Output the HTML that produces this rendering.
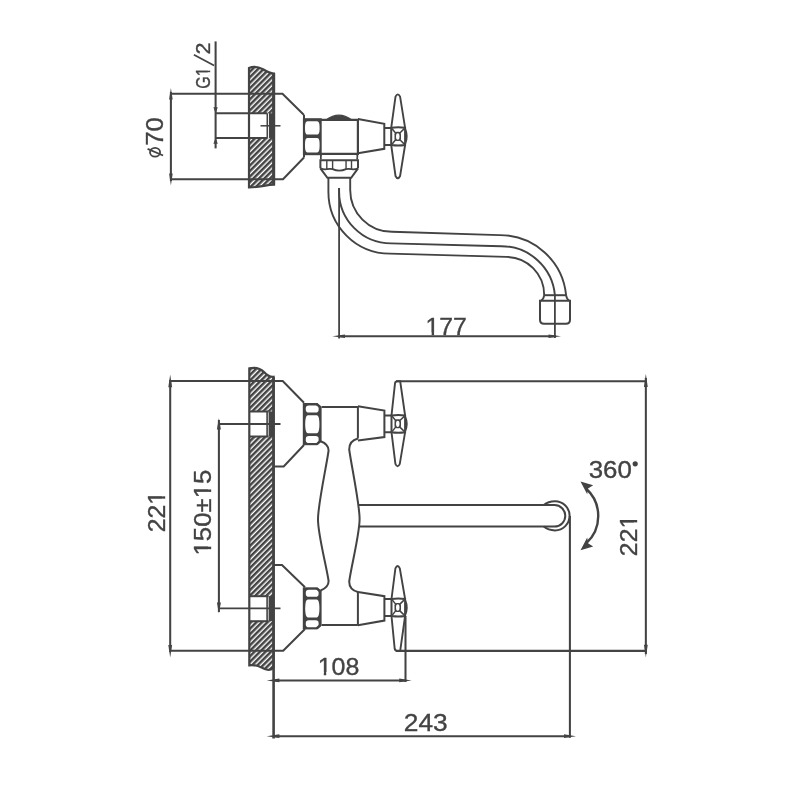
<!DOCTYPE html>
<html><head><meta charset="utf-8"><style>
html,body{margin:0;padding:0;background:#fff;width:800px;height:800px;overflow:hidden;}
svg{display:block;}
text{font-family:"Liberation Sans",sans-serif;}
svg{will-change:transform;}
</style></head><body>
<svg width="800" height="800" viewBox="0 0 800 800">
<defs>
<pattern id="hatch" patternUnits="userSpaceOnUse" width="3.9" height="3.9" patternTransform="rotate(-45)">
<rect x="0" y="0" width="3.9" height="2.5" fill="#434343"/>
</pattern>
</defs>
<rect width="800" height="800" fill="#fff"/>
<g stroke="#434343" fill="none" stroke-linecap="butt" stroke-linejoin="miter">
<g transform="translate(163.36,145.79) rotate(-90) scale(1.065,1)" stroke="none"><text font-size="24.2" fill="#434343" stroke="#434343" stroke-width="0.35">70</text></g>
<g transform="translate(210.1,88.71) rotate(-90) scale(0.8,1)" stroke="none"><text font-size="20.14" fill="#434343" stroke="#434343" stroke-width="0.35">G1</text><rect x="16.37" y="-2.32" width="4.25" height="3.93" fill="#fff"/><rect x="22.59" y="-2.32" width="4.45" height="3.93" fill="#fff"/></g>
<g transform="translate(209.9,54.4) rotate(-90) scale(1.11,1)" stroke="none"><text font-size="19.4" fill="#434343" stroke="#434343" stroke-width="0.35">2</text></g>
<g transform="translate(425.55,335.3) scale(1.043,1)" stroke="none"><text font-size="23.77" fill="#434343" stroke="#434343" stroke-width="0.35">177</text><rect x="0.83" y="-2.73" width="5.02" height="4.64" fill="#fff"/><rect x="8.18" y="-2.73" width="5.25" height="4.64" fill="#fff"/></g>
<g transform="translate(164.9,532.29) rotate(-90) scale(1.0175,1)" stroke="none"><text font-size="24.29" fill="#434343" stroke="#434343" stroke-width="0.35">221</text><rect x="27.87" y="-2.79" width="5.13" height="4.74" fill="#fff"/><rect x="35.37" y="-2.79" width="5.37" height="4.74" fill="#fff"/></g>
<g transform="translate(211.01,555.55) rotate(-90) scale(1.088,1)" stroke="none"><text font-size="23.73" fill="#434343" stroke="#434343" stroke-width="0.35">150±15</text><rect x="0.83" y="-2.73" width="5.01" height="4.63" fill="#fff"/><rect x="8.16" y="-2.73" width="5.24" height="4.63" fill="#fff"/><rect x="53.44" y="-2.73" width="5.01" height="4.63" fill="#fff"/><rect x="60.78" y="-2.73" width="5.24" height="4.63" fill="#fff"/></g>
<g transform="translate(637,556.14) rotate(-90) scale(1.028,1)" stroke="none"><text font-size="24.14" fill="#434343" stroke="#434343" stroke-width="0.35">221</text><rect x="27.69" y="-2.78" width="5.09" height="4.71" fill="#fff"/><rect x="35.15" y="-2.78" width="5.33" height="4.71" fill="#fff"/></g>
<g transform="translate(588.67,478.15) scale(1.055,1)" stroke="none"><text font-size="24.51" fill="#434343" stroke="#434343" stroke-width="0.35">360</text></g>
<g transform="translate(317.63,674.86) scale(1.031,1)" stroke="none"><text font-size="24.23" fill="#434343" stroke="#434343" stroke-width="0.35">108</text><rect x="0.85" y="-2.79" width="5.11" height="4.72" fill="#fff"/><rect x="8.34" y="-2.79" width="5.35" height="4.72" fill="#fff"/></g>
<g transform="translate(403.78,731.06) scale(1.08,1)" stroke="none"><text font-size="24.37" fill="#434343" stroke="#434343" stroke-width="0.35">243</text></g>
<clipPath id="cw1"><path d="M249,68 C253,66.3 258,66.6 263,69.3 C267,71.8 270,73.6 274,73.6 L274,184.6 C266,184.8 260,187.4 249,187.4 Z"/></clipPath>
<rect x="240" y="60" width="40" height="135" fill="url(#hatch)" stroke="none" clip-path="url(#cw1)"/>
<rect x="249" y="113.3" width="20" height="24.6" fill="#fff" stroke="none"/>
<rect x="269" y="113.3" width="5.5" height="24.6" fill="#434343" stroke="none"/>
<path d="M249,68 C253,66.3 258,66.6 263,69.3 C267,71.8 270,73.6 274,73.6 L274,184.6 C266,184.8 260,187.4 249,187.4 Z" stroke-width="2.2" fill="none"/>
<line x1="273.6" y1="73.6" x2="273.6" y2="184.6" stroke-width="3"/>
<line x1="267.3" y1="113.3" x2="267.3" y2="137.9" stroke-width="1.6"/>
<line x1="270.1" y1="113.3" x2="270.1" y2="137.9" stroke-width="0.7"/>
<line x1="260.5" y1="125.8" x2="280.5" y2="125.8" stroke-width="1.5"/>
<line x1="170.9" y1="92" x2="170.9" y2="181" stroke-width="2.05"/>
<polygon fill="#434343" stroke="none" points="170.9,88.1 169.1,99.5 172.7,99.5"/>
<polygon fill="#434343" stroke="none" points="170.9,185.6 169.1,173.4 172.7,173.4"/>
<path d="M170.9,93.85 L282.5,93.85 L304,115" stroke-width="2" fill="none"/>
<path d="M170.9,179.2 L283,179.2 L304,157.5" stroke-width="2" fill="none"/>
<ellipse cx="155.05" cy="152.2" rx="5.05" ry="4.4" fill="none" stroke-width="1.8"/>
<line x1="147.6" y1="148.85" x2="163.1" y2="155.5" stroke-width="1.8"/>
<line x1="215.6" y1="41.4" x2="215.6" y2="148.4" stroke-width="2.05"/>
<polygon fill="#434343" stroke="none" points="215.6,113.3 213.4,107.3 217.8,107.3"/>
<polygon fill="#434343" stroke="none" points="215.6,137.9 213.4,143.8 217.8,143.8"/>
<line x1="215.6" y1="113.3" x2="267.3" y2="113.3" stroke-width="2"/>
<line x1="215.6" y1="137.9" x2="267.3" y2="137.9" stroke-width="2"/>
<line x1="193.9" y1="54.7" x2="214.1" y2="65.6" stroke-width="1.7"/>
<rect x="302.9" y="118.2" width="18.8" height="37" fill="#434343" stroke="none"/>
<line x1="304" y1="115" x2="304" y2="157.5" stroke-width="2"/>
<path d="M307.5,121.3 L317,121.3 C319.4,121.3 319.6,125 319.6,128 C319.6,131 319.4,134.6 317,134.6 L307.5,134.6 C305.2,134.6 305,131 305,128 C305,125 305.2,121.3 307.5,121.3 Z" stroke="none" fill="#fff"/>
<path d="M307.5,137.9 L317,137.9 C319.4,137.9 319.6,141.5 319.6,145 C319.6,148.5 319.4,152.4 317,152.4 L307.5,152.4 C305.2,152.4 305,148.5 305,145 C305,141.5 305.2,137.9 307.5,137.9 Z" stroke="none" fill="#fff"/>
<path d="M321,119.8 L357.9,119.8 L357.9,153.8 L321,153.8" stroke-width="2.2" fill="none"/>
<path d="M326.2,119.8 Q339,110.5 351.5,119.8 Z" stroke-width="1.2" fill="#434343"/>
<path d="M357.9,119.1 L384.3,123.8 L384.3,148.8 L357.9,153.3" stroke-width="2" fill="none"/>
<path d="M384.3,128 L391.2,128 M384.3,145 L391.2,145" stroke-width="2" fill="none"/>
<path d="M391.2,127.8 Q398.15,126.8 405.1,127.8 L405.1,145.0 Q398.15,146.0 391.2,145.0 Z" stroke-width="2" fill="none"/>
<path d="M405.1,128.6 Q408.5,136.4 405.1,144.2" stroke-width="1.8" fill="none"/>
<rect x="394.5" y="131.76" width="6.5" height="9.29" rx="2.2" ry="2.4" fill="#434343" stroke="none"/>
<ellipse cx="397.75" cy="136.4" rx="1.75" ry="3.24" fill="#fff" stroke="none"/>
<path d="M391.8,128.4 L395.6,132.96 M404.5,128.4 L399.9,132.96 M391.8,144.4 L395.6,139.84 M404.5,144.4 L399.9,139.84" stroke-width="1.5" fill="none"/>
<path d="M391.2,127.8 L395.5,96.7 Q397.8,92.1 400.1,96.7 L405.1,127.8 M391.2,145.0 L395.5,176.0 Q397.8,180.6 400.1,176.0 L405.1,145.0" stroke-width="1.9" fill="none"/>
<path d="M321.2,153.8 Q320.6,156.6 320.9,159.4 M357.1,153.8 Q357.7,156.6 357.1,159.4" stroke-width="1.8" fill="none"/>
<path d="M320.4,168.3 L320.4,160.3 L358,160.3 L358,168.3" stroke-width="2" fill="none"/>
<line x1="326.8" y1="160.3" x2="326.8" y2="169.2" stroke-width="1.4"/>
<line x1="332.6" y1="160.3" x2="332.6" y2="169.2" stroke-width="1.4"/>
<line x1="346.05" y1="160.3" x2="346.05" y2="169.2" stroke-width="1.4"/>
<line x1="351.5" y1="160.3" x2="351.5" y2="169.2" stroke-width="1.4"/>
<path d="M320.4,168.3 Q323.5,169.6 326.8,169.2 Q330,168.8 332.6,169.1 Q339.3,172.2 346.05,169.1 Q348.5,168.8 351.5,169.2 Q355,169.6 358,168.3" stroke-width="1.8" fill="none"/>
<path d="M320.4,168.3 L327.4,177.8 L351.2,177.8 L358,168.3" stroke-width="2" fill="none"/>
<path d="M328.4,177.8 L328.4,192 A61.6,61.6 0 0 0 390,253.6 L506.15,256.9 A38.05,38.05 0 0 1 544.2,295.2" stroke-width="1.9" fill="none"/>
<path d="M339.1,188 L339.1,191.5 A51.9,51.9 0 0 0 391,243.4 L501.1,246.2 A53.8,53.8 0 0 1 554.9,295.2" stroke-width="1.9" fill="none"/>
<path d="M350.2,177.8 L350.2,190 A41.8,41.8 0 0 0 392,231.8 L499.35,235.1 A66.65,66.65 0 0 1 566.1,295.2" stroke-width="1.9" fill="none"/>
<path d="M544.2,295.2 L566.1,295.2" stroke-width="2" fill="none"/>
<path d="M544.2,295.2 Q543.8,299 541,300.8 M566.1,295.2 Q566.5,299 569.3,300.8" stroke-width="1.8" fill="none"/>
<path d="M540,300.8 L570,300.8 L570,319.8 Q570,323.8 566,323.8 L544,323.8 Q540,323.8 540,319.8 Z" stroke-width="2" fill="none"/>
<line x1="339.1" y1="188" x2="339.1" y2="338.5" stroke-width="1.8"/>
<line x1="554.9" y1="295.2" x2="554.9" y2="338" stroke-width="1.8"/>
<line x1="338" y1="336.25" x2="556" y2="336.25" stroke-width="2.05"/>
<polygon fill="#434343" stroke="none" points="332.3,336.25 345,334.4 345,338.1"/>
<polygon fill="#434343" stroke="none" points="561,336.25 548.5,334.4 548.5,338.1"/>
<clipPath id="cw2"><path d="M249.3,368.4 C255,367 260,368 264,372 C267,375.3 269.5,377.2 273.5,376.8 L273.5,667.8 C272,669.6 268.5,670.2 265.5,669.2 C261,667.6 257,664 249.3,665.3 Z"/></clipPath>
<rect x="240" y="360" width="40" height="320" fill="url(#hatch)" stroke="none" clip-path="url(#cw2)"/>
<rect x="249" y="411.5" width="20" height="25" fill="#fff" stroke="none"/>
<rect x="268.6" y="411.5" width="5.4" height="25" fill="#434343" stroke="none"/>
<line x1="267.1" y1="411.5" x2="267.1" y2="436.5" stroke-width="1.6"/>
<line x1="249" y1="411.5" x2="268.6" y2="411.5" stroke-width="2"/>
<line x1="249" y1="436.5" x2="268.6" y2="436.5" stroke-width="2"/>
<rect x="249" y="596.2" width="20" height="25" fill="#fff" stroke="none"/>
<rect x="268.6" y="596.2" width="5.4" height="25" fill="#434343" stroke="none"/>
<line x1="267.1" y1="596.2" x2="267.1" y2="621.2" stroke-width="1.6"/>
<line x1="249" y1="596.2" x2="268.6" y2="596.2" stroke-width="2"/>
<line x1="249" y1="621.2" x2="268.6" y2="621.2" stroke-width="2"/>
<path d="M249.3,368.4 C255,367 260,368 264,372 C267,375.3 269.5,377.2 273.5,376.8 L273.5,667.8 C272,669.6 268.5,670.2 265.5,669.2 C261,667.6 257,664 249.3,665.3 Z" stroke-width="2.2" fill="none"/>
<line x1="273.6" y1="376.8" x2="273.6" y2="738.4" stroke-width="2.6"/>
<line x1="170.2" y1="380" x2="170.2" y2="652" stroke-width="2.05"/>
<polygon fill="#434343" stroke="none" points="170.2,374.5 168.3,387.3 172.1,387.3"/>
<polygon fill="#434343" stroke="none" points="170.2,657.5 168.3,645 172.1,645"/>
<path d="M170.2,381.1 L282.7,381.1 L304,402.8" stroke-width="2" fill="none"/>
<path d="M170.2,650.7 L283.2,650.7 L305,629" stroke-width="2" fill="none"/>
<line x1="218.9" y1="420" x2="218.9" y2="612" stroke-width="2.05"/>
<polygon fill="#434343" stroke="none" points="218.9,418.1 216.9,429.4 220.9,429.4"/>
<polygon fill="#434343" stroke="none" points="218.9,613.6 216.9,602.4 220.9,602.4"/>
<line x1="218.9" y1="424" x2="280.5" y2="424" stroke-width="1.8"/>
<line x1="218.9" y1="608.3" x2="280.5" y2="608.3" stroke-width="1.8"/>
<path d="M304,445 L283.7,466.5 L273.5,466.5" stroke-width="2" fill="none"/>
<path d="M273.5,565 L282,565 L305,587.3" stroke-width="2" fill="none"/>
<rect x="302.8" y="403" width="18.8" height="42.2" fill="#434343" stroke="none"/>
<rect x="305.8" y="405.4" width="12.8" height="7.14" rx="3" ry="2.8" fill="#fff" stroke="none"/>
<rect x="305.8" y="435.92" width="12.8" height="7.08" rx="3" ry="2.8" fill="#fff" stroke="none"/>
<path d="M308,415.24 L316.6,415.24 C318.9,415.24 319.4,420.23 319.4,424.23 C319.4,428.23 318.9,433.22 316.6,433.22 L308,433.22 C305.7,433.22 305.2,428.23 305.2,424.23 C305.2,420.23 305.7,415.24 308,415.24 Z" stroke="none" fill="#fff"/>
<polygon fill="#fff" stroke="none" points="316.8,402.5 322.5,402.5 322.5,407.5"/>
<polygon fill="#fff" stroke="none" points="316.8,445.7 322.5,445.7 322.5,440.7"/>
<path d="M316.6,404 L320.6,407.6 M316.6,444.2 L320.6,440.6" stroke-width="2.2" fill="none"/>
<rect x="302.8" y="587.3" width="18.8" height="42.1" fill="#434343" stroke="none"/>
<rect x="305.8" y="589.7" width="12.8" height="7.11" rx="3" ry="2.8" fill="#fff" stroke="none"/>
<rect x="305.8" y="620.14" width="12.8" height="7.06" rx="3" ry="2.8" fill="#fff" stroke="none"/>
<path d="M308,599.51 L316.6,599.51 C318.9,599.51 319.4,604.48 319.4,608.48 C319.4,612.48 318.9,617.44 316.6,617.44 L308,617.44 C305.7,617.44 305.2,612.48 305.2,608.48 C305.2,604.48 305.7,599.51 308,599.51 Z" stroke="none" fill="#fff"/>
<polygon fill="#fff" stroke="none" points="316.8,586.8 322.5,586.8 322.5,591.8"/>
<polygon fill="#fff" stroke="none" points="316.8,629.9 322.5,629.9 322.5,624.9"/>
<path d="M316.6,588.3 L320.6,591.9 M316.6,628.4 L320.6,624.8" stroke-width="2.2" fill="none"/>
<line x1="321.6" y1="407" x2="357.9" y2="407" stroke-width="2"/>
<path d="M357.9,406.2 L384.4,410.5 L384.4,437 L357.9,440.5" stroke-width="2" fill="none"/>
<line x1="357.9" y1="406.2" x2="357.9" y2="438.5" stroke-width="2"/>
<path d="M384.4,415.5 L391.5,415.5 M384.4,432.2 L391.5,432.2" stroke-width="2" fill="none"/>
<path d="M391.5,415.5 Q398.3,414.5 405.1,415.5 L405.1,432.2 Q398.3,433.2 391.5,432.2 Z" stroke-width="2" fill="none"/>
<path d="M405.1,416.3 Q408.5,423.85 405.1,431.4" stroke-width="1.8" fill="none"/>
<rect x="394.5" y="419.34" width="6.5" height="9.02" rx="2.2" ry="2.4" fill="#434343" stroke="none"/>
<ellipse cx="397.75" cy="423.85" rx="1.75" ry="3.11" fill="#fff" stroke="none"/>
<path d="M392.1,416.1 L395.6,420.54 M404.5,416.1 L399.9,420.54 M392.1,431.59999999999997 L395.6,427.16 M404.5,431.59999999999997 L399.9,427.16" stroke-width="1.5" fill="none"/>
<path d="M391.5,415.5 L395,383.3 Q395.4,381.3 397.4,381.3 L400.2,381.3 L405.1,415.5" stroke-width="1.9" fill="none"/>
<path d="M391.5,432.2 L395.4,463.8 Q397.6,468.6 399.8,463.8 L405.1,432.2" stroke-width="1.9" fill="none"/>
<line x1="396" y1="381.25" x2="646.8" y2="381.25" stroke-width="2.05"/>
<line x1="321.6" y1="625" x2="357.9" y2="625" stroke-width="2"/>
<path d="M357.9,592 L384.4,596.2 L384.4,620.6 L357.9,625.2" stroke-width="2" fill="none"/>
<line x1="357.9" y1="592" x2="357.9" y2="625.2" stroke-width="2"/>
<path d="M384.4,599 L391.5,599 M384.4,616 L391.5,616" stroke-width="2" fill="none"/>
<path d="M391.5,599 Q398.3,598 405.1,599 L405.1,616 Q398.3,617 391.5,616 Z" stroke-width="2" fill="none"/>
<path d="M405.1,599.8 Q408.5,607.5 405.1,615.2" stroke-width="1.8" fill="none"/>
<rect x="394.5" y="602.91" width="6.5" height="9.18" rx="2.2" ry="2.4" fill="#434343" stroke="none"/>
<ellipse cx="397.75" cy="607.5" rx="1.75" ry="3.19" fill="#fff" stroke="none"/>
<path d="M392.1,599.6 L395.6,604.11 M404.5,599.6 L399.9,604.11 M392.1,615.4 L395.6,610.89 M404.5,615.4 L399.9,610.89" stroke-width="1.5" fill="none"/>
<path d="M391.5,599 L395.4,568.4 Q397.6,563.6 399.8,568.4 L405.1,599" stroke-width="1.9" fill="none"/>
<path d="M391.5,616 L394.7,648.8 Q395.1,650.85 397.1,650.85 L400.2,650.85 L405.1,616" stroke-width="1.9" fill="none"/>
<line x1="396" y1="650.85" x2="646.8" y2="650.85" stroke-width="2.05"/>
<path d="M320.6,441.2 C325.5,443 328.6,446 328.6,450.5 C326.5,466 318,504 318,519.5 C318,535 326.5,566 328.6,581 C328.6,585.5 325.5,588.5 320.6,590.5" stroke-width="2" fill="none"/>
<path d="M357.9,438.5 C352,440 349.2,443.5 349.2,449.5 C351.3,465 359.6,504 359.6,519 C359.6,534 351.3,566 349.2,581.5 C349.2,587.5 352,590.5 357.9,592" stroke-width="2" fill="none"/>
<path d="M359,505 L554.5,505 A10.8,10.8 0 0 1 554.5,526.6 L359.4,526.6" stroke-width="2" fill="none"/>
<path d="M543.8,505 C547,502.2 551,501.2 555,501.2 A14.6,14.6 0 0 1 555,530.4 C551,530.4 547,529.4 543.8,526.6" stroke-width="2" fill="none"/>
<line x1="569.9" y1="516" x2="569.9" y2="737.8" stroke-width="2.05"/>
<line x1="645.85" y1="378" x2="645.85" y2="654" stroke-width="2.05"/>
<polygon fill="#434343" stroke="none" points="645.85,373.8 643.95,387.1 647.75,387.1"/>
<polygon fill="#434343" stroke="none" points="645.85,657.5 643.95,644.8 647.75,644.8"/>
<path d="M586,488.5 A37,37 0 0 1 586,543.5" stroke-width="2.4" fill="none"/>
<polygon fill="#434343" stroke="none" points="580.5,481.5 593.2,485.3 588,488.6 587.2,494.2"/>
<polygon fill="#434343" stroke="none" points="580.5,550.3 593.2,546.5 588,543.2 587.2,537.6"/>
<circle cx="635.2" cy="463.8" r="2.6" fill="#434343" stroke="none"/>
<line x1="405.5" y1="616" x2="405.5" y2="682" stroke-width="2.05"/>
<line x1="273.6" y1="680.4" x2="405.4" y2="680.4" stroke-width="2.05"/>
<polygon fill="#434343" stroke="none" points="266.6,680.4 279.4,678.5 279.4,682.3"/>
<polygon fill="#434343" stroke="none" points="411.6,680.4 399.2,678.5 399.2,682.3"/>
<line x1="273.6" y1="736.2" x2="570" y2="736.2" stroke-width="2.05"/>
<polygon fill="#434343" stroke="none" points="266.6,736.2 279.4,734.3 279.4,738.1"/>
<polygon fill="#434343" stroke="none" points="576,736.2 564,734.3 564,738.1"/>
</g>
</svg>
</body></html>
